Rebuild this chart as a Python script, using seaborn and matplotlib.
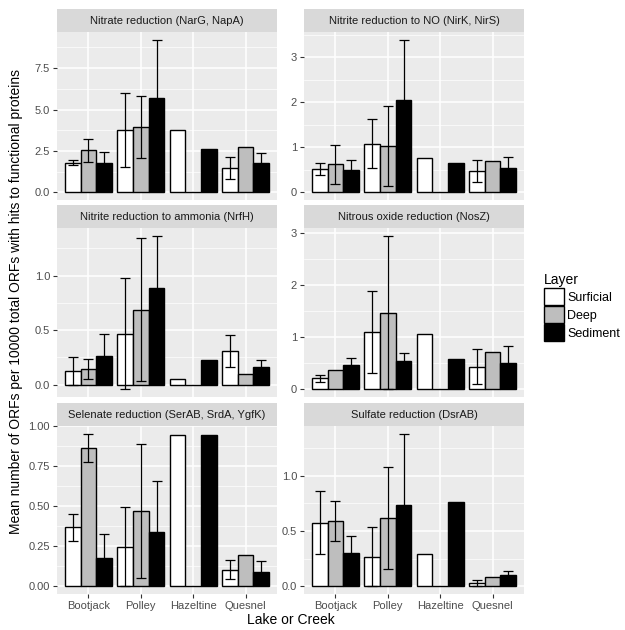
import numpy as np
import pandas as pd
import matplotlib.pyplot as plt
import seaborn as sns
from matplotlib.patches import Patch, Rectangle
from matplotlib.ticker import AutoMinorLocator

# ===============================
# Data
# ===============================

sites = ["Bootjack", "Polley", "Hazeltine", "Quesnel"]
layers = ["Surficial", "Deep", "Sediment"]
layer_colors = ["white", "#BEBEBE", "black"]

nan = np.nan

# values ordered site by site: Surficial, Deep, Sediment
nitrate_mean = [1.80, 2.53, 1.75, 3.75, 3.95, 5.72, 3.75, 0.0, 2.60, 1.48, 2.75, 1.78]
nitrate_err = [0.15, 0.72, 0.70, 2.22, 1.87, 3.50, nan, nan, nan, 0.67, nan, 0.60]

nitrite_no_mean = [0.52, 0.62, 0.49, 1.08, 1.03, 2.04, 0.77, 0.0, 0.65, 0.48, 0.69, 0.54]
nitrite_no_err = [0.14, 0.44, 0.23, 0.545, 0.88, 1.35, nan, nan, nan, 0.245, nan, 0.25]

ammonia_mean = [0.125, 0.142, 0.26, 0.466, 0.688, 0.889, 0.052, 0.0, 0.228, 0.309, 0.10, 0.16]
ammonia_err = [0.125, 0.09, 0.205, 0.51, 0.66, 0.478, nan, nan, nan, 0.147, nan, 0.068]

nosz_mean = [0.21, 0.37, 0.46, 1.10, 1.47, 0.55, 1.05, 0.0, 0.58, 0.43, 0.705, 0.506]
nosz_err = [0.07, nan, 0.14, 0.78, 1.47, 0.15, nan, nan, nan, 0.335, nan, 0.33]

selenate_mean = [0.365, 0.864, 0.172, 0.245, 0.465, 0.337, 0.943, 0.0, 0.943, 0.10, 0.19, 0.082]
selenate_err = [0.087, 0.089, 0.153, 0.25, 0.42, 0.32, nan, nan, nan, 0.06, nan, 0.071]

sulfate_mean = [0.577, 0.589, 0.303, 0.27, 0.616, 0.739, 0.294, 0.0, 0.766, 0.033, 0.081, 0.105]
sulfate_err = [0.285, 0.18, 0.153, 0.27, 0.46, 0.643, nan, nan, nan, 0.027, nan, 0.033]

panel_titles = [
    "Nitrate reduction (NarG, NapA)",
    "Nitrite reduction to NO (NirK, NirS)",
    "Nitrite reduction to ammonia (NrfH)",
    "Nitrous oxide reduction (NosZ)",
    "Selenate reduction (SerAB, SrdA, YgfK)",
    "Sulfate reduction (DsrAB)",
]
panel_means = [nitrate_mean, nitrite_no_mean, ammonia_mean, nosz_mean, selenate_mean, sulfate_mean]
panel_errs = [nitrate_err, nitrite_no_err, ammonia_err, nosz_err, selenate_err, sulfate_err]

panel_yticks = [
    [0, 2.5, 5.0, 7.5],
    [0, 1, 2, 3],
    [0.0, 0.5, 1.0],
    [0, 1, 2, 3],
    [0.0, 0.25, 0.50, 0.75, 1.00],
    [0.0, 0.5, 1.0],
]
panel_ytick_labels = [
    ["0.0", "2.5", "5.0", "7.5"],
    ["0", "1", "2", "3"],
    ["0.0", "0.5", "1.0"],
    ["0", "1", "2", "3"],
    ["0.00", "0.25", "0.50", "0.75", "1.00"],
    ["0.0", "0.5", "1.0"],
]

# ===============================
# Figure
# ===============================

plt.rcParams["font.family"] = ["Liberation Sans", "DejaVu Sans"]

W, H = 625, 630
fig = plt.figure(figsize=(W / 100, H / 100), dpi=100)

col_left = [57, 304]
col_width = 220
row_top = [32, 228, 426]
row_height = [168, 169, 168]
strip_px = 23

for k, title in enumerate(panel_titles):
    r, c = divmod(k, 2)
    ax = fig.add_axes([
        col_left[c] / W,
        1 - (row_top[r] + row_height[r]) / H,
        col_width / W,
        row_height[r] / H,
    ])

    df = pd.DataFrame({
        "site": np.repeat(sites, len(layers)),
        "layer": layers * len(sites),
        "mean": panel_means[k],
        "err": panel_errs[k],
    })

    sns.barplot(
        data=df, x="site", y="mean", hue="layer",
        order=sites, hue_order=layers, palette=layer_colors,
        saturation=1, width=0.9, errorbar=None,
        edgecolor="black", linewidth=1.0, legend=False, ax=ax, zorder=2,
    )

    # error bars on top of the bars
    for j, layer in enumerate(layers):
        sub = df[df["layer"] == layer].set_index("site").loc[sites]
        bars = ax.containers[j]
        xs = [b.get_x() + b.get_width() / 2 for b in bars]
        ax.errorbar(xs, sub["mean"], yerr=sub["err"], fmt="none",
                    ecolor="black", elinewidth=0.9, capsize=3.6,
                    capthick=0.9, zorder=3)

    # y limits like ggplot: data range incl. error bars + 5%
    lo = min(0, np.nanmin(df["mean"] - df["err"]))
    hi = np.nanmax(np.fmax(df["mean"] + df["err"].fillna(0), df["mean"]))
    pad = (hi - lo) * 0.05
    ax.set_ylim(lo - pad, hi + pad)
    ax.set_xlim(-0.6, len(sites) - 0.4)

    ax.set_yticks(panel_yticks[k])
    ax.set_yticklabels(panel_ytick_labels[k])
    ax.yaxis.set_minor_locator(AutoMinorLocator(2))

    ax.set_facecolor("#EBEBEB")
    ax.set_axisbelow(True)
    ax.grid(which="major", color="white", linewidth=1.1)
    ax.grid(which="minor", axis="y", color="white", linewidth=0.5)
    for s in ax.spines.values():
        s.set_visible(False)

    ax.tick_params(axis="both", which="major", length=3, width=0.8,
                   color="#333333", labelcolor="#4D4D4D", labelsize=8, pad=2)
    ax.tick_params(axis="both", which="minor", length=0)
    if r < 2:
        ax.tick_params(axis="x", length=0, labelbottom=False)
    ax.set_xlabel("")
    ax.set_ylabel("")

    # facet strip
    sh = strip_px / row_height[r]
    ax.add_patch(Rectangle((0, 1), 1, sh, transform=ax.transAxes,
                           facecolor="#D9D9D9", edgecolor="none", clip_on=False))
    ax.text(0.5, 1 + sh / 2, title, transform=ax.transAxes, ha="center",
            va="center", fontsize=8, color="#1A1A1A")

fig.text(290.5 / W, 1 - 620 / H, "Lake or Creek", ha="center", va="center", fontsize=10)
fig.text(16 / W, 1 - 301.5 / H,
         "Mean number of ORFs per 10000 total ORFs with hits to functional proteins",
         rotation=90, ha="center", va="center", fontsize=10)

handles = [Patch(facecolor=col, edgecolor="black", linewidth=1.0) for col in layer_colors]
fig.legend(handles, layers, title="Layer", loc="upper left",
           bbox_to_anchor=(535 / W, 1 - 264 / H), frameon=False,
           fontsize=9, title_fontsize=10, handlelength=1.6, handleheight=1.7,
           handletextpad=0.3, labelspacing=0.1, alignment="left",
           borderpad=0.2)

fig.savefig("out.png", dpi=100)
plt.close()
